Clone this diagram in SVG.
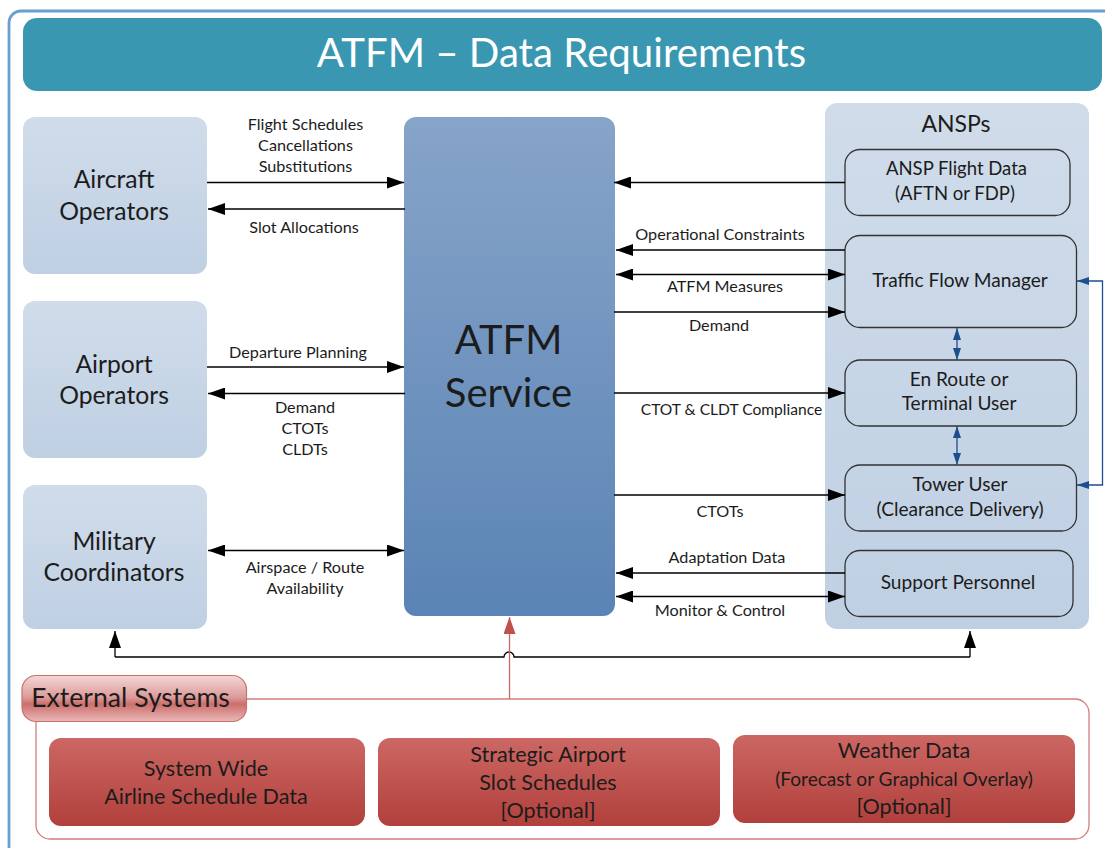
<svg xmlns="http://www.w3.org/2000/svg" width="1105" height="848" viewBox="0 0 1105 848">
<defs>
<linearGradient id="gBlue" x1="0" y1="0" x2="0" y2="1"><stop offset="0" stop-color="#d0dcea"/><stop offset="1" stop-color="#bfd0e3"/></linearGradient>
<linearGradient id="gCore" x1="0" y1="0" x2="0" y2="1"><stop offset="0" stop-color="#87a4c9"/><stop offset="1" stop-color="#5a84b5"/></linearGradient>
<linearGradient id="gRed" x1="0" y1="0" x2="0" y2="1"><stop offset="0" stop-color="#cc6763"/><stop offset="1" stop-color="#b1403c"/></linearGradient>
<linearGradient id="gLabel" x1="0" y1="0" x2="0" y2="1"><stop offset="0" stop-color="#f2d8d7"/><stop offset="0.48" stop-color="#dc9a98"/><stop offset="0.62" stop-color="#cb6f6c"/><stop offset="1" stop-color="#eab8b6"/></linearGradient>
<marker id="ab" markerUnits="userSpaceOnUse" markerWidth="17" markerHeight="12" refX="17" refY="6" orient="auto-start-reverse"><path d="M0 0L17 6L0 12Z" fill="#000"/></marker>
<marker id="au" markerUnits="userSpaceOnUse" markerWidth="12" markerHeight="12" refX="12" refY="4" orient="auto-start-reverse"><path d="M0 0L12 4L0 8Z" fill="#1f4e8c"/></marker>
<marker id="ar" markerUnits="userSpaceOnUse" markerWidth="17" markerHeight="12" refX="17" refY="6" orient="auto"><path d="M0 0L17 6L0 12Z" fill="#c0504d"/></marker>
</defs>
<style>
text{font-family:Lato,"Carlito","Open Sans",sans-serif;fill:#1c1c1c;text-anchor:middle}
.sm{font-size:16.200px}
.md{font-size:19.100px}
.rd{font-size:21.600px}
.lg{font-size:24.700px}
.ln{fill:none;stroke:#000;stroke-width:1.3}
.lnm{marker-end:url(#ab)}
.lnb{marker-start:url(#ab);marker-end:url(#ab)}
.bx{fill:url(#gBlue)}
.in{fill:none;stroke:#333;stroke-width:1.3}
.ub{fill:none;stroke:#1f4e8c;stroke-width:1.3}
.rb{fill:url(#gRed)}
</style>
<rect x="9" y="11" width="1110" height="848" rx="12" fill="#fff" stroke="#6a9ecb" stroke-width="2.8"/>
<g id="title"><rect x="23" y="18" width="1079" height="73" rx="14" fill="#3a97b1"/><text x="561.500" y="67" font-size="40.200" style="fill:#fff">ATFM – Data Requirements</text></g>
<g id="aircraft"><rect class="bx" x="23" y="117" width="184" height="157" rx="12"/><text class="lg" x="114" y="188">Aircraft</text><text class="lg" x="114" y="220">Operators</text></g>
<g id="airport"><rect class="bx" x="23" y="301" width="184" height="157" rx="12"/><text class="lg" x="114" y="373">Airport</text><text class="lg" x="114" y="404">Operators</text></g>
<g id="military"><rect class="bx" x="23" y="485" width="184" height="144" rx="12"/><text class="lg" x="114" y="550">Military</text><text class="lg" x="114" y="581">Coordinators</text></g>
<g id="atfm"><rect x="404" y="117" width="211" height="499" rx="12" fill="url(#gCore)"/><text x="508.500" y="354" font-size="40">ATFM</text><text x="508.500" y="407" font-size="40">Service</text></g>
<g id="ansps"><rect class="bx" x="825" y="103" width="264" height="526" rx="12"/><text x="956" y="132" font-size="23">ANSPs</text></g>
<g id="flightdata"><rect class="in" x="845" y="149.500" width="225" height="66" rx="15"/><text x="956.500" y="175" font-size="18.500">ANSP Flight Data</text><text x="955" y="200" font-size="18.500">(AFTN or FDP)</text></g>
<g id="tfm"><rect class="in" x="845" y="235.500" width="231.500" height="92" rx="15"/><text class="md" x="960" y="287">Traffic Flow Manager</text></g>
<g id="enroute"><rect class="in" x="845" y="360" width="231.500" height="66" rx="15"/><text class="md" x="959" y="386">En Route or</text><text class="md" x="959" y="410">Terminal User</text></g>
<g id="tower"><rect class="in" x="845" y="465" width="231.500" height="66" rx="15"/><text class="md" x="960" y="491">Tower User</text><text class="md" x="960" y="516">(Clearance Delivery)</text></g>
<g id="support"><rect class="in" x="845" y="550.500" width="228" height="66" rx="15"/><text class="md" x="958" y="589">Support Personnel</text></g>
<g id="external"><rect x="36" y="699" width="1053" height="140" rx="14" fill="#fff" stroke="#d07f7c" stroke-width="1.300"/><rect x="22" y="675.500" width="224.500" height="46" rx="14" fill="url(#gLabel)" stroke="#c9706d" stroke-width="1.200"/><text x="130.500" y="707" font-size="26.600">External Systems</text></g>
<g id="syswide"><rect class="rb" x="49" y="738" width="316" height="88" rx="12"/><text class="rd" x="206" y="776">System Wide</text><text class="rd" x="206" y="804">Airline Schedule Data</text></g>
<g id="slots"><rect class="rb" x="378" y="738" width="342" height="88" rx="12"/><text class="rd" x="548" y="762">Strategic Airport</text><text class="rd" x="548" y="790">Slot Schedules</text><text class="rd" x="548" y="818">[Optional]</text></g>
<g id="weather"><rect class="rb" x="733" y="735" width="342" height="88" rx="12"/><text class="rd" x="904" y="758">Weather Data</text><text class="md" x="904" y="786">(Forecast or Graphical Overlay)</text><text class="rd" x="904" y="814">[Optional]</text></g>
<g id="connectors">
<path class="ln lnm" d="M207 182.500H404"/>
<path class="ln lnm" d="M405 209H208"/>
<path class="ln lnm" d="M207 367H404"/>
<path class="ln lnm" d="M405 393.500H208"/>
<path class="ln lnb" d="M208 550.500H404"/>
<path class="ln lnm" d="M845 182.500H614"/>
<path class="ln lnm" d="M845 250H616"/>
<path class="ln lnb" d="M616 274.500H845"/>
<path class="ln lnm" d="M614 312H845"/>
<path class="ln lnm" d="M614 393H845"/>
<path class="ln lnm" d="M614 495H845"/>
<path class="ln lnm" d="M845 573H616"/>
<path class="ln lnb" d="M616 596.500H845"/>
<path class="ln lnm" d="M115 657V631"/>
<path class="ln" d="M115 657H504a5 5 0 0 1 10 0H970"/>
<path class="ln lnm" d="M970 657V631"/>
<path fill="none" stroke="#c96a67" stroke-width="1.300" marker-end="url(#ar)" d="M509.500 699V617"/>
<path class="ub" marker-start="url(#au)" marker-end="url(#au)" d="M957 328V360"/>
<path class="ub" marker-start="url(#au)" marker-end="url(#au)" d="M957 426V465"/>
<path class="ub" marker-start="url(#au)" marker-end="url(#au)" d="M1077 281H1102.500V485H1077"/>
</g>
<g id="labels">
<text class="sm" x="305.500" y="130">Flight Schedules</text><text class="sm" x="305.500" y="151">Cancellations</text><text class="sm" x="305.500" y="172">Substitutions</text>
<text class="sm" x="304" y="233">Slot Allocations</text>
<text class="sm" x="298" y="358">Departure Planning</text>
<text class="sm" x="305" y="413">Demand</text><text class="sm" x="305" y="434">CTOTs</text><text class="sm" x="305" y="455">CLDTs</text>
<text class="sm" x="305" y="573">Airspace / Route</text><text class="sm" x="305" y="594">Availability</text>
<text class="sm" x="720" y="240">Operational Constraints</text>
<text class="sm" x="725" y="292">ATFM Measures</text>
<text class="sm" x="719" y="331">Demand</text>
<text x="731.500" y="415" font-size="15.600">CTOT &amp; CLDT Compliance</text>
<text class="sm" x="720" y="517">CTOTs</text>
<text class="sm" x="727" y="563">Adaptation Data</text>
<text class="sm" x="720" y="616">Monitor &amp; Control</text>
</g>
</svg>
